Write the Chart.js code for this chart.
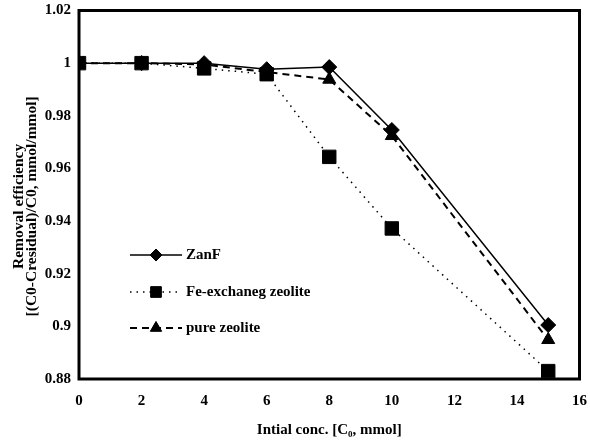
<!DOCTYPE html>
<html><head><meta charset="utf-8">
<script src="https://cdn.jsdelivr.net/npm/chart.js@4/dist/chart.umd.min.js"></script>
<style>html,body{margin:0;padding:0;background:#fff}#wrap{width:590px;height:443px}</style>
</head><body><div id="wrap"><canvas id="c" width="590" height="443"></canvas></div>
<script>
const concentrations = [0, 2, 4, 6, 8, 10, 15];
const zanF = [1.0, 1.0, 1.0, 0.9977, 0.9985, 0.9746, 0.9005];
const feZeolite = [1.0, 1.0, 0.998, 0.9958, 0.9644, 0.9372, 0.883];
const pureZeolite = [1.0, 1.0, 0.9995, 0.9966, 0.9938, 0.9724, 0.8949];
const seriesNames = ["ZanF", "Fe-exchaneg zeolite", "pure zeolite"];
const xTicks = [0, 2, 4, 6, 8, 10, 12, 14, 16];
const yTicks = [0.88, 0.9, 0.92, 0.94, 0.96, 0.98, 1, 1.02];

const FONT = "'Liberation Serif', 'Times New Roman', serif";
const pts = arr => concentrations.map((x, i) => ({x, y: arr[i]}));

const boxPlugin = {
  id: 'box',
  afterDatasetsDraw(chart) {
    const {ctx, chartArea: a} = chart;
    ctx.save();
    ctx.strokeStyle = '#000';
    ctx.lineWidth = 3;
    ctx.strokeRect(a.left, a.top, a.right - a.left, a.bottom - a.top);
    ctx.restore();
  }
};

const legendPlugin = {
  id: 'inlineLegend',
  afterDatasetsDraw(chart) {
    const {ctx} = chart;
    const rows = [255, 292, 328];
    const legendRadius = [6, 7.5, 6.5];
    ctx.save();
    chart.data.datasets.forEach((ds, i) => {
      const y = rows[i];
      ctx.strokeStyle = '#000';
      ctx.lineWidth = ds.borderWidth;
      ctx.setLineDash(ds.borderDash || []);
      ctx.beginPath();
      ctx.moveTo(130, y); ctx.lineTo(182, y);
      ctx.stroke();
      ctx.setLineDash([]);
      ctx.lineWidth = 1;
      Chart.helpers.drawPoint(ctx, {pointStyle: ds.pointStyle, radius: legendRadius[i], borderWidth: 1, rotation: 0}, 156, y);
      ctx.fillStyle = '#000';
      ctx.fill();
      ctx.font = "bold 15px " + FONT;
      ctx.textBaseline = 'middle';
      ctx.textAlign = 'left';
      ctx.fillText(ds.label, 186, y);
    });
    ctx.restore();
  }
};

const fmt = v => String(Math.round(v * 100) / 100);

new Chart(document.getElementById('c'), {
  type: 'line',
  data: {
    datasets: [
      {label: seriesNames[0], data: pts(zanF), borderColor: '#000', backgroundColor: '#000', borderWidth: 1.5,
       pointStyle: 'rectRot', pointRadius: 7.5, pointBorderWidth: 1, borderDash: []},
      {label: seriesNames[1], data: pts(feZeolite), borderColor: '#000', backgroundColor: '#000', borderWidth: 1.5,
       pointStyle: 'rect', pointRadius: 9.5, pointBorderWidth: 1, borderDash: [1.5, 5]},
      {label: seriesNames[2], data: pts(pureZeolite), borderColor: '#000', backgroundColor: '#000', borderWidth: 2,
       pointStyle: 'triangle', pointRadius: 7.5, pointBorderWidth: 1, borderDash: [7, 5]}
    ]
  },
  options: {
    responsive: false,
    animation: false,
    events: [],
    layout: {padding: {top: 10, right: 7, left: 0, bottom: 0}},
    plugins: {legend: {display: false}, tooltip: {enabled: false}},
    scales: {
      x: {
        type: 'linear', min: 0, max: 16,
        afterBuildTicks: s => { s.ticks = xTicks.map(v => ({value: v})); },
        afterFit: s => { s.height = 64; s.paddingLeft = 0; s.paddingRight = 0; },
        grid: {display: false, drawTicks: false},
        border: {display: false},
        ticks: {color: '#000', padding: 13, font: {family: FONT, size: 15, weight: 'bold'}},
        title: {display: true, text: 'Intial conc. [C\u2080, mmol]', color: '#000', padding: {top: 12},
                font: {family: FONT, size: 15, weight: 'bold'}}
      },
      y: {
        min: 0.88, max: 1.02,
        afterBuildTicks: s => { s.ticks = yTicks.map(v => ({value: v})); },
        afterFit: s => { s.width = 79; s.paddingTop = 0; s.paddingBottom = 0; },
        grid: {display: false, drawTicks: false},
        border: {display: false},
        ticks: {color: '#000', padding: 8, callback: v => fmt(v), font: {family: FONT, size: 15, weight: 'bold'}},
        title: {display: true, text: ['Removal efficiency      ', '[(C0-Cresidual)/C0, mmol/mmol]      '], color: '#000',
                padding: {bottom: 0, top: 12}, font: {family: FONT, size: 15.5, weight: 'bold', lineHeight: 0.87}}
      }
    }
  },
  plugins: [boxPlugin, legendPlugin]
});
</script></body></html>
